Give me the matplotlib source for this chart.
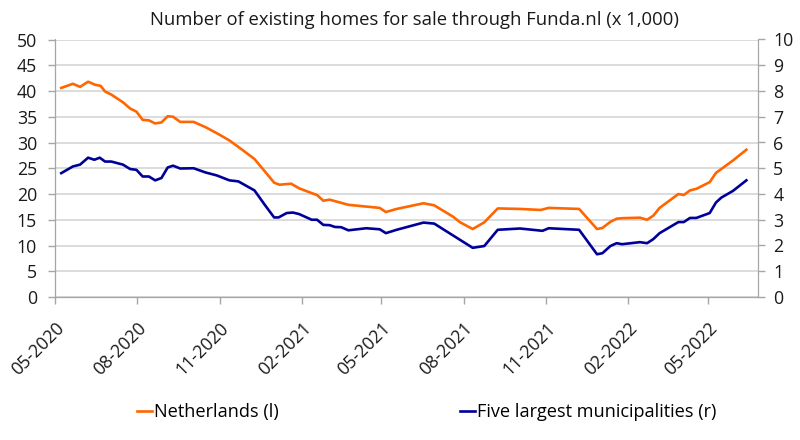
import numpy as np
import pandas as pd
import matplotlib
matplotlib.use("Agg")
import matplotlib.pyplot as plt
import matplotlib.dates as mdates

plt.rcParams["font.family"] = ["Open Sans", "DejaVu Sans"]

# Netherlands (left axis, x 1,000)
nl_dates = [
    "2020-05-08", "2020-05-21", "2020-05-29", "2020-06-07", "2020-06-15", "2020-06-21",
    "2020-06-26", "2020-07-03", "2020-07-16", "2020-07-24", "2020-07-31", "2020-08-07",
    "2020-08-14", "2020-08-21", "2020-08-28", "2020-09-04", "2020-09-10", "2020-09-18",
    "2020-10-03", "2020-10-16", "2020-10-29", "2020-11-12", "2020-11-27", "2020-12-10",
    "2020-12-23", "2021-01-01", "2021-01-07", "2021-01-20", "2021-01-29", "2021-02-10",
    "2021-02-18", "2021-02-25", "2021-03-04", "2021-03-25", "2021-04-29", "2021-05-06",
    "2021-05-18", "2021-06-17", "2021-06-29", "2021-07-20", "2021-07-28", "2021-08-11",
    "2021-08-24", "2021-09-08", "2021-10-03", "2021-10-26", "2021-11-04", "2021-12-08",
    "2021-12-28", "2022-01-03", "2022-01-12", "2022-01-19", "2022-01-25", "2022-02-14",
    "2022-02-22", "2022-03-01", "2022-03-08", "2022-03-29", "2022-04-04", "2022-04-11",
    "2022-04-18", "2022-05-03", "2022-05-10", "2022-05-29", "2022-06-13",
]
nl_values = [
    40.6, 41.4, 40.8, 41.8, 41.2, 41.0,
    39.9, 39.3, 37.8, 36.6, 36.0, 34.4,
    34.3, 33.7, 33.9, 35.1, 35.0, 34.0,
    34.0, 33.0, 31.8, 30.4, 28.5, 26.8,
    24.1, 22.2, 21.8, 22.0, 21.1, 20.3,
    19.8, 18.7, 18.9, 17.9, 17.3, 16.5,
    17.1, 18.2, 17.8, 15.6, 14.5, 13.2,
    14.5, 17.2, 17.1, 16.9, 17.3, 17.1,
    13.2, 13.4, 14.6, 15.2, 15.3, 15.4,
    15.0, 15.8, 17.3, 20.0, 19.8, 20.7,
    21.0, 22.3, 24.1, 26.5, 28.6,
]

# Five largest municipalities (right axis, x 1,000)
big5_dates = [
    "2020-05-08", "2020-05-16", "2020-05-21", "2020-05-29", "2020-06-07", "2020-06-14",
    "2020-06-20", "2020-06-26", "2020-07-03", "2020-07-16", "2020-07-24", "2020-07-31",
    "2020-08-07", "2020-08-14", "2020-08-21", "2020-08-28", "2020-09-04", "2020-09-10",
    "2020-09-18", "2020-10-03", "2020-10-16", "2020-10-29", "2020-11-12", "2020-11-22",
    "2020-12-10", "2020-12-23", "2021-01-01", "2021-01-06", "2021-01-15", "2021-01-22",
    "2021-01-29", "2021-02-12", "2021-02-18", "2021-02-25", "2021-03-04", "2021-03-10",
    "2021-03-17", "2021-03-25", "2021-04-14", "2021-04-29", "2021-05-06", "2021-05-18",
    "2021-06-17", "2021-06-29", "2021-08-11", "2021-08-24", "2021-09-08", "2021-10-03",
    "2021-10-28", "2021-11-04", "2021-12-08", "2021-12-28", "2022-01-03", "2022-01-12",
    "2022-01-19", "2022-01-25", "2022-02-14", "2022-02-22", "2022-03-01", "2022-03-08",
    "2022-03-29", "2022-04-04", "2022-04-11", "2022-04-18", "2022-05-03", "2022-05-10",
    "2022-05-16", "2022-05-29", "2022-06-13",
]
big5_values = [
    4.81, 4.97, 5.07, 5.14, 5.41, 5.33,
    5.41, 5.26, 5.26, 5.14, 4.97, 4.94,
    4.68, 4.68, 4.53, 4.62, 5.03, 5.10,
    4.99, 5.00, 4.84, 4.72, 4.53, 4.49,
    4.14, 3.51, 3.09, 3.09, 3.26, 3.28,
    3.22, 3.00, 3.00, 2.80, 2.79, 2.72,
    2.71, 2.59, 2.67, 2.63, 2.48, 2.61,
    2.89, 2.85, 1.91, 1.98, 2.61, 2.66,
    2.57, 2.67, 2.61, 1.66, 1.70, 1.98,
    2.09, 2.05, 2.13, 2.09, 2.25, 2.48,
    2.91, 2.91, 3.07, 3.07, 3.26, 3.67,
    3.86, 4.12, 4.53,
]

tick_dates = pd.date_range("2020-05-01", "2022-05-01", freq="3MS")

orange = "#FF6600"
navy = "#000099"
grid_c = "#D9D9D9"
spine_c = "#A6A6A6"

fig = plt.figure(figsize=(8, 4.4), dpi=100)
ax = fig.add_axes([55 / 800, 1 - 297 / 440, (758 - 55) / 800, (297 - 39.5) / 440])
ax2 = ax.twinx()

l1, = ax.plot(pd.to_datetime(nl_dates), nl_values, color=orange, lw=1.9,
              label="Netherlands (l)", solid_joinstyle="round")
l2, = ax2.plot(pd.to_datetime(big5_dates), big5_values, color=navy, lw=1.9,
               label="Five largest municipalities (r)", solid_joinstyle="round")

ax.set_ylim(0, 50)
ax.set_yticks(np.arange(0, 51, 5))
ax2.set_ylim(0, 10)
ax2.set_yticks(np.arange(0, 11, 1))
ax.set_xlim(pd.Timestamp("2020-05-01"), pd.Timestamp("2022-06-26"))

ax.set_xticks(tick_dates)
ax.xaxis.set_major_formatter(mdates.DateFormatter("%m-%Y"))

ax.grid(axis="y", color=grid_c, lw=1.3)
ax.set_axisbelow(True)

for a in (ax, ax2):
    a.spines["top"].set_visible(False)
    for s in ("left", "right", "bottom"):
        a.spines[s].set_color(spine_c)
    a.tick_params(colors=spine_c, labelcolor="#1a1a1a", labelsize=12.8, length=5, width=1)
ax.spines["left"].set_color("#7f7f7f")
ax.spines["bottom"].set_color("#7f7f7f")
ax.tick_params(axis="y", pad=8)
ax2.tick_params(axis="y", pad=6)
ax.tick_params(axis="x", pad=11)
for lab in ax.get_xticklabels():
    lab.set_rotation(45)
    lab.set_ha("right")
    lab.set_rotation_mode("anchor")

fig.text(0.5175, 0.955, "Number of existing homes for sale through Funda.nl (x 1,000)",
         ha="center", va="center", fontsize=13.3, color="#1a1a1a")

fig.legend(handles=[l1, l2], loc="center left", bbox_to_anchor=(121 / 800, 1 - 412 / 440),
           ncol=2, frameon=False, fontsize=13.1,
           handlelength=0.8, handletextpad=0.1, columnspacing=10)

fig.savefig("out.png", dpi=100)
